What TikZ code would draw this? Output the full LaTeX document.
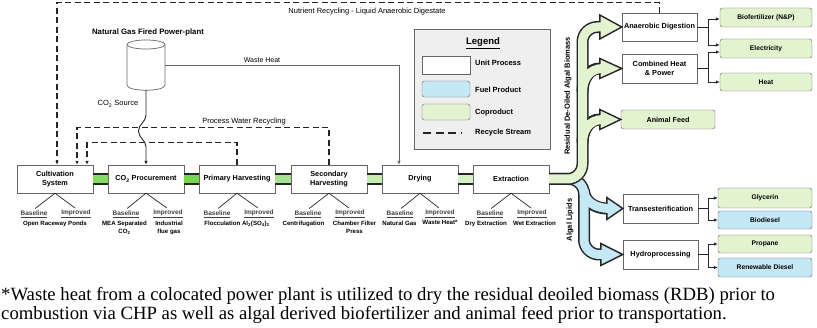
\documentclass[tikz,border=0pt]{standalone}
\usepackage{fontspec}
\setmainfont{Liberation Sans}
\newfontfamily\capfont{Liberation Serif}
\usetikzlibrary{calc, positioning, arrows.meta}

\definecolor{coprodgreen}{HTML}{E2F3D0}
\definecolor{fuelblue}{HTML}{C4E8F6}
\definecolor{legendgray}{HTML}{EFEFEF}
\definecolor{linegray}{HTML}{666666}
\definecolor{barA}{HTML}{86DC62}
\definecolor{barB}{HTML}{78D64C}
\definecolor{barC}{HTML}{A6E292}
\definecolor{barD}{HTML}{C6EDB2}
\definecolor{barE}{HTML}{D8F2C8}

\begin{document}
\begin{tikzpicture}[x=1pt, y=-1pt, >={Latex[length=4pt, width=3.5pt]},
    unit/.style={draw=linegray, fill=white, rectangle, align=center, minimum width=76pt, minimum height=28pt, inner sep=1pt, font=\fontsize{7.3}{8.7}\selectfont\bfseries},
    coprod/.style={draw=linegray, fill=coprodgreen, rounded corners=2.5pt, minimum width=92pt, minimum height=19pt, inner sep=1pt, font=\fontsize{6.7}{8}\selectfont\bfseries},
    fuel/.style={coprod, fill=fuelblue},
    option/.style={font=\fontsize{6.5}{7}\selectfont\bfseries, text=black!75, inner sep=1pt},
    desc/.style={font=\fontsize{6.1}{8}\selectfont\bfseries, align=center, inner sep=0pt, anchor=north},
    note/.style={font=\fontsize{7.5}{9}\selectfont, inner sep=1pt},
    legtext/.style={font=\fontsize{7.5}{9}\selectfont\bfseries, anchor=west, inner sep=0pt},
    flow/.style={draw=black!85, line width=0.7pt},
    recycle/.style={draw=black!85, line width=1.1pt, dash pattern=on 6pt off 3.5pt},
    bar/.style={line width=8pt, preaction={draw=black!85, line width=11.5pt}},
    fathead/.style={line width=1.4pt, draw=black!85, line join=miter},
    capstyle/.style={font=\capfont\fontsize{18.7}{20}\selectfont, inner sep=0pt, anchor=base west}]

    \useasboundingbox (0,0) rectangle (817,328);

    % process chain
    \node[unit] (cult) at (55,179) {Cultivation\\System};
    \node[unit] (co2) at (146,179) {CO\textsubscript{2} Procurement};
    \node[unit] (prim) at (237,179) {Primary Harvesting};
    \node[unit] (sec) at (329,179) {Secondary\\Harvesting};
    \node[unit] (dry) at (420,179) {Drying};
    \node[unit] (ext) at (511,179) {Extraction};

    \draw[bar, barA] (cult.east) -- (co2.west);
    \draw[bar, barB] (co2.east) -- (prim.west);
    \draw[bar, barC] (prim.east) -- (sec.west);
    \draw[bar, barD] (sec.east) -- (dry.west);
    \draw[bar, barE] (dry.east) -- (ext.west);

    % baseline / improved options
    \node[option] (cultbase) at (34,214) {\underline{Baseline}};
    \node[option] (cultimp) at (76,214) {\underline{Improved}};
    \node[desc] (cultdesc) at (55,220.5) {Open Raceway Ponds};
    \node[option] (co2base) at (126,214) {\underline{Baseline}};
    \node[option] (co2imp) at (168,214) {\underline{Improved}};
    \node[desc] (co2descA) at (124.5,220.5) {MEA Separated\\CO\textsubscript{2}};
    \node[desc] (co2descB) at (169,220.5) {Industrial\\flue gas};
    \node[option] (primbase) at (217,214) {\underline{Baseline}};
    \node[option] (primimp) at (259,214) {\underline{Improved}};
    \node[desc] (primdesc) at (237,220.5) {Flocculation Al\textsubscript{2}(SO\textsubscript{4})\textsubscript{3}};
    \node[option] (secbase) at (308,214) {\underline{Baseline}};
    \node[option] (secimp) at (350,214) {\underline{Improved}};
    \node[desc] (secdescA) at (303.5,220.5) {Centrifugation};
    \node[desc] (secdescB) at (354.5,220.5) {Chamber Filter\\Press};
    \node[option] (drybase) at (400,214) {\underline{Baseline}};
    \node[option] (dryimp) at (440,214) {\underline{Improved}};
    \node[desc] (drydescA) at (399.5,220.5) {Natural Gas};
    \node[desc] (drydescB) at (440,220.5) {Waste Heat*};
    \node[option] (extbase) at (490,214) {\underline{Baseline}};
    \node[option] (extimp) at (532,214) {\underline{Improved}};
    \node[desc] (extdescA) at (486,220.5) {Dry Extraction};
    \node[desc] (extdescB) at (534.5,220.5) {Wet Extraction};

    \draw[flow, shorten >=1.5pt] (cult.south) -- (cultbase.north);
    \draw[flow, shorten >=1.5pt] (cult.south) -- (cultimp.north);
    \draw[flow, shorten >=1.5pt] (co2.south) -- (co2base.north);
    \draw[flow, shorten >=1.5pt] (co2.south) -- (co2imp.north);
    \draw[flow, shorten >=1.5pt] (prim.south) -- (primbase.north);
    \draw[flow, shorten >=1.5pt] (prim.south) -- (primimp.north);
    \draw[flow, shorten >=1.5pt] (sec.south) -- (secbase.north);
    \draw[flow, shorten >=1.5pt] (sec.south) -- (secimp.north);
    \draw[flow, shorten >=1.5pt] (dry.south) -- (drybase.north);
    \draw[flow, shorten >=1.5pt] (dry.south) -- (dryimp.north);
    \draw[flow, shorten >=1.5pt] (ext.south) -- (extbase.north);
    \draw[flow, shorten >=1.5pt] (ext.south) -- (extimp.north);

    % power plant
    \node[font=\fontsize{7.8}{9}\selectfont\bfseries] (plantlabel) at (148,32) {Natural Gas Fired Power-plant};
    \node[minimum width=38pt, minimum height=50pt, inner sep=0pt] (plant) at (146,65) {};
    \draw[draw=linegray, fill=white, line width=0.7pt] (127,45) -- (127,85) .. controls (127,92) and (165,92) .. (165,85) -- (165,45);
    \draw[draw=linegray, fill=white, line width=0.7pt] (146,44.5) ellipse [x radius=19, y radius=4.5];

    \draw[flow, line width=0.9pt, ->] (plant.south) -- (146,115) to[out=-90, in=90] (138.5,131) to[out=-90, in=90] (146,147) -- (co2.north);
    \node[note] (co2src) at (118,104) {CO\textsubscript{2} Source};
    \draw[flow, draw=linegray, ->] (plant.east) -| ([xshift=-21pt]dry.north);
    \node[note, font=\fontsize{7}{8}\selectfont] (wastelbl) at (262,60) {Waste Heat};

    % legend
    \node[draw=linegray, fill=legendgray, minimum width=136pt, minimum height=120pt] (legend) at (482,89) {};
    \node[font=\fontsize{9.5}{11}\selectfont\bfseries] (legtitle) at (483,43) {\underline{Legend}};
    \node[draw=linegray, fill=white, minimum width=48pt, minimum height=18pt] (legunit) at (446,65) {};
    \node[fuel, minimum width=48pt, minimum height=16pt] (legfuel) at (446,89) {};
    \node[coprod, minimum width=48pt, minimum height=16pt] (legco) at (446,112) {};
    \coordinate (legrecA) at (423,133);
    \coordinate (legrecB) at (462,133);
    \draw[recycle, dash pattern=on 8pt off 4.5pt] (legrecA) -- (legrecB);
    \node[legtext] (legunittxt) at (475,63) {Unit Process};
    \node[legtext] (legfueltxt) at (475,90) {Fuel Product};
    \node[legtext] (legcotxt) at (475,113) {Coproduct};
    \node[legtext] (legrectxt) at (475,133) {Recycle Stream};

    % products
    \node[unit, minimum width=75pt] (ad) at (659.5,27) {Anaerobic Digestion};
    \node[unit, minimum width=75pt, minimum height=29pt] (chp) at (659.5,68.5) {Combined Heat\\\& Power};
    \node[coprod, minimum width=94pt, font=\fontsize{7.2}{8}\selectfont\bfseries] (feed) at (668,119.5) {Animal Feed};
    \node[coprod] (biofert) at (766,17.5) {Biofertilizer (N\&P)};
    \node[coprod] (elec) at (766,48.5) {Electricity};
    \node[coprod, minimum height=18pt] (heat) at (766,82) {Heat};
    \node[unit, minimum width=75pt, minimum height=29pt] (trans) at (660.5,208.5) {Transesterification};
    \node[unit, minimum width=75pt, minimum height=29pt] (hydro) at (660.5,254.5) {Hydroprocessing};
    \node[coprod, minimum width=94pt, minimum height=20pt] (glyc) at (765,198) {Glycerin};
    \node[fuel, minimum width=94pt, minimum height=18pt] (biodsl) at (765,220) {Biodiesel};
    \node[coprod, minimum width=94pt, minimum height=18pt] (prop) at (765,244) {Propane};
    \node[fuel, minimum width=94pt, minimum height=19pt] (rdsl) at (765,267.5) {Renewable Diesel};

    \draw[flow, ->] (ad.east) -- ++(11,0) |- ([yshift=-1.5pt]biofert.west);
    \draw[flow, ->] (ad.east) -- ++(11,0) |- ([yshift=3.5pt]elec.west);
    \draw[flow, ->] (chp.east) -- ++(11,0) |- ([yshift=-3.5pt]elec.west);
    \draw[flow, ->] (chp.east) -- ++(11,0) |- (heat.west);
    \draw[flow, ->] (trans.east) -- ++(10,0) |- (glyc.west);
    \draw[flow, ->] (trans.east) -- ++(10,0) |- (biodsl.west);
    \draw[flow, ->] (hydro.east) -- ++(10,0) |- (prop.west);
    \draw[flow, ->] (hydro.east) -- ++(10,0) |- (rdsl.west);

    % recycle streams
    \draw[recycle, ->] (ad.north) -- ++(0,-10) -| ([xshift=2pt]cult.north);
    \node[note] (nutrlbl) at (367,12) {Nutrient Recycling - Liquid Anaerobic Digestate};
    \draw[recycle, ->] (sec.north) -- ++(0,-37) -| ([xshift=22pt]cult.north);
    \draw[recycle, ->] (prim.north) -- ++(0,-22) -| ([xshift=32pt]cult.north);
    \node[note] (waterlbl) at (244,122) {Process Water Recycling};

    % algal lipids (blue)
    \filldraw[fathead, fill=fuelblue] ($(hydro.west)+(-22,-11)$) -- (hydro.west) -- ($(hydro.west)+(-22,11)$) -- cycle;
    \filldraw[fathead, fill=fuelblue] ($(trans.west)+(-16,-11)$) -- (trans.west) -- ($(trans.west)+(-16,11)$) -- cycle;
    \foreach \w/\c/\s in {12pt/black!85/0pt, 9pt/fuelblue/-3pt} {
        \draw[line width=\w, draw=\c, shorten >=\s, rounded corners=15pt] (ext.east) -- (584,179) -- (584,254.5) -- ($(hydro.west)+(-22,0)$);
        \draw[line width=\w, draw=\c, shorten >=\s] (584,190) to[out=-90, in=180] ($(trans.west)+(-16,0)$);
    }

    % residual biomass (green)
    \filldraw[fathead, fill=coprodgreen] ($(ad.west)+(-22,-12)$) -- (ad.west) -- ($(ad.west)+(-22,12)$) -- cycle;
    \filldraw[fathead, fill=coprodgreen] ($(chp.west)+(-22,-10)$) -- (chp.west) -- ($(chp.west)+(-22,10)$) -- cycle;
    \filldraw[fathead, fill=coprodgreen] ($(feed.west)+(-21,-10)$) -- (feed.west) -- ($(feed.west)+(-21,10)$) -- cycle;
    \foreach \w/\c/\s in {12pt/black!85/0pt, 9pt/coprodgreen/-3pt} {
        \draw[line width=\w, draw=\c, shorten >=\s] (582.5,92) to[out=90, in=180] ($(chp.west)+(-22,0)$);
        \draw[line width=\w, draw=\c, shorten >=\s] (582.5,143) to[out=90, in=180] ($(feed.west)+(-21,0)$);
        \draw[line width=\w, draw=\c, shorten >=\s, rounded corners=15pt] (ext.east) -- (582.5,179) -- (582.5,27) -- ($(ad.west)+(-22,0)$);
    }

    \node[rotate=90, font=\fontsize{7.5}{9}\selectfont\bfseries, inner sep=0pt] (rdblbl) at (568,96) {Residual De-Oiled Algal Biomass};
    \node[rotate=90, font=\fontsize{7.5}{9}\selectfont\bfseries, inner sep=0pt] (lipidlbl) at (570,220) {Algal Lipids};

    % footnote
    \node[capstyle] (capA) at (1,301) {*Waste heat from a colocated power plant is utilized to dry the residual deoiled biomass (RDB) prior to};
    \node[capstyle] (capB) at (1,320) {combustion via CHP as well as algal derived biofertilizer and animal feed prior to transportation.};
\end{tikzpicture}
\end{document}
